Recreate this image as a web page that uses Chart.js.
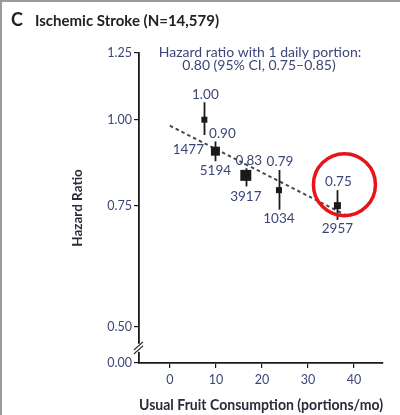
<!DOCTYPE html>
<html>
<head>
<meta charset="utf-8">
<script src="https://cdn.jsdelivr.net/npm/chart.js@4/dist/chart.umd.min.js"></script>
<style>
  html, body { margin: 0; padding: 0; background: #fff; }
  #wrap { width: 400px; height: 415px; position: relative; }
</style>
</head>
<body>
<div id="wrap"><canvas id="c" width="400" height="415"></canvas></div>
<script>
// Usual fruit consumption (portions/mo) per category and the hazard ratio for ischemic stroke
const fruitPortions = [7.5, 9.9, 16.5, 23.7, 36.4];
const hazardRatios  = [1.00, 0.90, 0.83, 0.79, 0.75];
const ciLower       = [0.95, 0.87, 0.80, 0.74, 0.715];
const ciUpper       = [1.06, 0.93, 0.85, 0.845, 0.79];
const caseCounts    = [1477, 5194, 3917, 1034, 2957];

// Log-linear trend across categories
const trendX = [0, 38.5];
const trendY = [0.98, 0.725];

// Axis ticks
const yTickValues = [0.50, 0.75, 1.00, 1.25];
const xTickValues = [0, 10, 20, 30, 40];
const yAxisFloor = 0.443;   // bottom of the broken axis, labelled 0.00

const panelLetter = 'C';
const panelTitle = 'Ischemic Stroke (N=14,579)';
const noteLines = ['Hazard ratio with 1 daily portion:', '0.80 (95% CI, 0.75\u20130.85)'];

// ---- styling ----
const FONT = 'Lato, "Open Sans", "Liberation Sans", sans-serif';
const INK = '#1a1a1a';
const LABEL_BLUE = '#3c4676';
const markerSide = [6, 9, 11, 6, 7];
// horizontal nudge of each value label above its CI bar
const valueOffset = [1, 7, 3, 1, 1];
// where each count label sits relative to the lower end of its CI bar
const countOffset = [[-16, 15], [0, 9], [0, 10], [0, 9], [0, 9]];

const overlay = {
  id: 'overlay',
  afterDatasetsDraw(chart) {
    const ctx = chart.ctx;
    const xs = chart.scales.x, ys = chart.scales.y;
    ctx.save();

    // CI bars
    ctx.strokeStyle = INK;
    ctx.lineWidth = 1.8;
    fruitPortions.forEach((x, i) => {
      const px = Math.round(xs.getPixelForValue(x)) + 0.5;
      ctx.beginPath();
      ctx.moveTo(px, ys.getPixelForValue(ciUpper[i]));
      ctx.lineTo(px, ys.getPixelForValue(ciLower[i]));
      ctx.stroke();
    });

    // value and count labels
    ctx.fillStyle = LABEL_BLUE;
    ctx.font = '13.5px ' + FONT;
    ctx.textAlign = 'center';
    ctx.textBaseline = 'middle';
    fruitPortions.forEach((x, i) => {
      const px = xs.getPixelForValue(x);
      const top = ys.getPixelForValue(ciUpper[i]);
      const bot = ys.getPixelForValue(ciLower[i]);
      ctx.fillText(hazardRatios[i].toFixed(2), px + valueOffset[i], top - 8);
      ctx.fillText(String(caseCounts[i]), px + countOffset[i][0], bot + countOffset[i][1]);
    });

    // highlight ring around the top category's label
    const hx = xs.getPixelForValue(fruitPortions[4]);
    const hy = ys.getPixelForValue(hazardRatios[4]);
    ctx.strokeStyle = '#e8141a';
    ctx.lineWidth = 3.5;
    ctx.beginPath();
    ctx.arc(hx + 7, hy - 21, 31, 0, Math.PI * 2);
    ctx.stroke();

    // axis break between 0.50 and 0.00
    const ax = chart.chartArea.left;
    const by = ys.getPixelForValue(0.5) + 21;
    ctx.fillStyle = '#fff';
    ctx.fillRect(ax - 3, by - 4, 6, 8);
    ctx.strokeStyle = INK;
    ctx.lineWidth = 1.2;
    [-2, 2].forEach(d => {
      ctx.beginPath();
      ctx.moveTo(ax - 5, by + 4 + d);
      ctx.lineTo(ax + 4, by - 4 + d);
      ctx.stroke();
    });

    ctx.restore();
  },
  afterDraw(chart) {
    const ctx = chart.ctx;
    ctx.save();
    // panel frame
    ctx.strokeStyle = '#9a9a9a';
    ctx.lineWidth = 2;
    ctx.beginPath();
    ctx.moveTo(1, 415);
    ctx.lineTo(1, 1);
    ctx.lineTo(400, 1);
    ctx.stroke();

    // panel heading
    ctx.fillStyle = '#222';
    ctx.textBaseline = 'middle';
    ctx.textAlign = 'left';
    ctx.font = 'bold 18px ' + FONT;
    ctx.fillText(panelLetter, 11, 20);
    ctx.font = 'bold 15px ' + FONT;
    ctx.fillText(panelTitle, 35, 21);

    // trend note
    ctx.fillStyle = LABEL_BLUE;
    ctx.font = '14px ' + FONT;
    ctx.textAlign = 'center';
    ctx.fillText(noteLines[0], 260, 52);
    ctx.fillText(noteLines[1], 259, 65);
    ctx.restore();
  }
};

new Chart(document.getElementById('c'), {
  data: {
    datasets: [
      {
        type: 'scatter',
        data: fruitPortions.map((x, i) => ({ x, y: hazardRatios[i] })),
        pointStyle: 'rect',
        pointRadius: markerSide.map(s => s / Math.SQRT2),
        pointHoverRadius: markerSide.map(s => s / Math.SQRT2),
        backgroundColor: INK,
        borderColor: INK,
        borderWidth: 0,
        order: 1
      },
      {
        type: 'line',
        data: trendX.map((x, i) => ({ x, y: trendY[i] })),
        borderColor: '#4a4a4a',
        borderWidth: 2,
        borderDash: [3.5, 3],
        pointRadius: 0,
        fill: false,
        order: 2
      }
    ]
  },
  options: {
    responsive: false,
    animation: false,
    layout: { padding: { left: 0, top: 53, right: 17, bottom: 0 } },
    plugins: { legend: { display: false }, tooltip: { enabled: false } },
    scales: {
      x: {
        type: 'linear',
        min: -6.7,
        max: 46.3,
        afterFit: s => { s.height = 52; },
        afterBuildTicks: s => { s.ticks = xTickValues.map(v => ({ value: v })); },
        ticks: { color: LABEL_BLUE, font: { family: FONT, size: 12.5 }, padding: 4, autoSkip: false, maxRotation: 0 },
        grid: { drawOnChartArea: false, tickLength: 5, color: INK, lineWidth: 1.2 },
        border: { color: INK, width: 1.8 },
        title: {
          display: true,
          text: 'Usual Fruit Consumption (portions/mo)',
          color: '#2a2a3a',
          font: { family: FONT, size: 15, weight: 'bold' },
          padding: { top: 0, bottom: 1 }
        }
      },
      y: {
        type: 'logarithmic',
        min: yAxisFloor,
        max: 1.25,
        afterFit: s => { s.width = 139; },
        afterBuildTicks: s => { s.ticks = [yAxisFloor, ...yTickValues].map(v => ({ value: v })); },
        ticks: {
          color: LABEL_BLUE,
          font: { family: FONT, size: 12.5 },
          padding: 2,
          autoSkip: false,
          callback: v => (v === yAxisFloor ? '0.00' : Number(v).toFixed(2))
        },
        grid: { drawOnChartArea: false, tickLength: 5, color: INK, lineWidth: 1.2 },
        border: { color: INK, width: 1.8 },
        title: {
          display: true,
          text: 'Hazard Ratio',
          color: '#2a2a3a',
          font: { family: FONT, size: 13.5, weight: 'bold' },
          padding: { top: 70, bottom: 0 }
        }
      }
    }
  },
  plugins: [overlay]
});
</script>
</body>
</html>
